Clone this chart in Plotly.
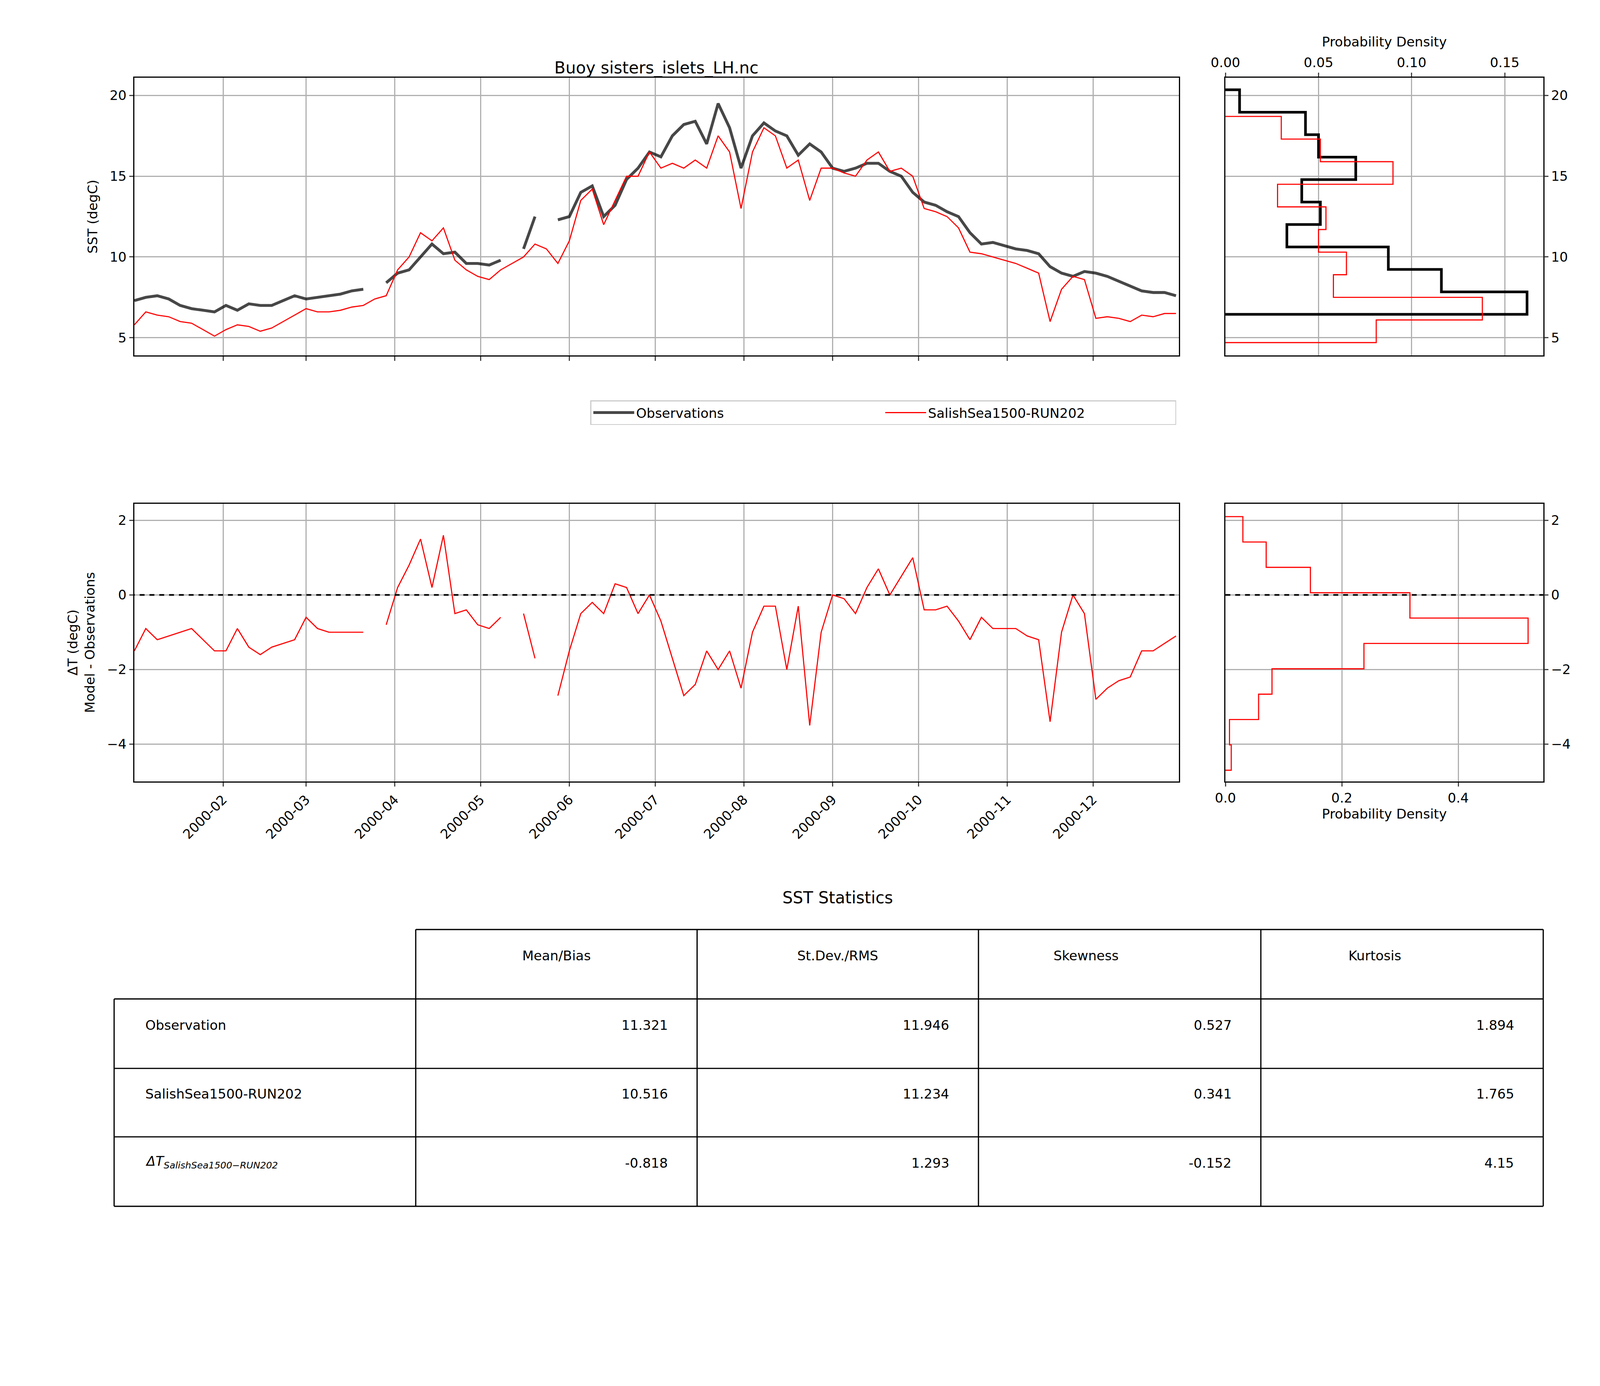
import plotly.graph_objects as go
import pandas as pd

# sampled every 4 days from 2000-01-01
obs_sst = [7.3, 7.5, 7.6, 7.4, 7.0, 6.8, 6.7, 6.6, 7.0, 6.7, 7.1, 7.0, 7.0, 7.3, 7.6, 7.4,
           7.5, 7.6, 7.7, 7.9, 8.0, None, 8.4, 9.0, 9.2, 10.0, 10.8, 10.2, 10.3, 9.6, 9.6, 9.5,
           9.8, None, 10.5, 12.5, None, 12.3, 12.5, 14.0, 14.4, 12.5, 13.2, 14.8, 15.5, 16.5,
           16.2, 17.5, 18.2, 18.4, 17.0, 19.5, 18.0, 15.5, 17.5, 18.3, 17.8, 17.5, 16.3, 17.0,
           16.5, 15.5, 15.3, 15.5, 15.8, 15.8, 15.3, 15.0, 14.0, 13.4, 13.2, 12.8, 12.5, 11.5,
           10.8, 10.9, 10.7, 10.5, 10.4, 10.2, 9.4, 9.0, 8.8, 9.1, 9.0, 8.8, 8.5, 8.2, 7.9,
           7.8, 7.8, 7.6]
mod_sst = [5.8, 6.6, 6.4, 6.3, 6.0, 5.9, 5.5, 5.1, 5.5, 5.8, 5.7, 5.4, 5.6, 6.0, 6.4, 6.8,
           6.6, 6.6, 6.7, 6.9, 7.0, 7.4, 7.6, 9.2, 10.0, 11.5, 11.0, 11.8, 9.8, 9.2, 8.8, 8.6,
           9.2, 9.6, 10.0, 10.8, 10.5, 9.6, 11.0, 13.5, 14.2, 12.0, 13.5, 15.0, 15.0, 16.5,
           15.5, 15.8, 15.5, 16.0, 15.5, 17.5, 16.5, 13.0, 16.5, 18.0, 17.5, 15.5, 16.0, 13.5,
           15.5, 15.5, 15.2, 15.0, 16.0, 16.5, 15.3, 15.5, 15.0, 13.0, 12.8, 12.5, 11.8, 10.3,
           10.2, 10.0, 9.8, 9.6, 9.3, 9.0, 6.0, 8.0, 8.8, 8.6, 6.2, 6.3, 6.2, 6.0, 6.4, 6.3,
           6.5, 6.5]

obs_edges = [6.45, 7.84, 9.23, 10.62, 12.01, 13.40, 14.79, 16.18, 17.57, 18.96, 20.35]
obs_dens = [0.162, 0.116, 0.0875, 0.033, 0.051, 0.041, 0.07, 0.05, 0.043, 0.0076]
mod_edges = [4.7, 6.1, 7.5, 8.9, 10.3, 11.7, 13.1, 14.5, 15.9, 17.3, 18.7]
mod_dens = [0.081, 0.138, 0.058, 0.065, 0.05, 0.054, 0.028, 0.09, 0.051, 0.03]
diff_edges = [-4.7, -4.02, -3.34, -2.66, -1.98, -1.30, -0.62, 0.06, 0.74, 1.42, 2.10]
diff_dens = [0.01, 0.007, 0.057, 0.08, 0.238, 0.52, 0.317, 0.146, 0.07, 0.03]

stat_cols = ["Mean/Bias", "St.Dev./RMS", "Skewness", "Kurtosis"]
stat_rows = ["Observation", "SalishSea1500-RUN202",
             "<i>ΔT<sub>SalishSea1500−RUN202</sub></i>"]
stat_vals = [["11.321", "11.946", "0.527", "1.894"],
             ["10.516", "11.234", "0.341", "1.765"],
             ["-0.818", "1.293", "-0.152", "4.15"]]

dates = pd.date_range("2000-01-01", periods=len(obs_sst), freq="4D")
diff = [None if (o is None or m is None) else m - o for o, m in zip(obs_sst, mod_sst)]

W, H = 4080, 3107
S = W / 1560.0  # display px -> real px
def px(v): return v / 1560.0
def py(v): return 1 - v / 1188.0

def step(edges, dens):
    xs, ys = [0], [edges[0]]
    for i, d in enumerate(dens):
        xs += [d, d]
        ys += [edges[i], edges[i + 1]]
    xs.append(0); ys.append(edges[-1])
    return xs, ys

FS = 13 * S
fig = go.Figure()
fig.add_trace(go.Scatter(x=dates, y=obs_sst, mode="lines", name="Observations",
                         line=dict(color="rgba(0,0,0,0.72)", width=2.8 * S),
                         xaxis="x", yaxis="y"))
fig.add_trace(go.Scatter(x=dates, y=mod_sst, mode="lines", name="SalishSea1500-RUN202",
                         line=dict(color="red", width=1.1 * S), xaxis="x", yaxis="y"))
hx, hy = step(obs_edges, obs_dens)
fig.add_trace(go.Scatter(x=hx, y=hy, mode="lines", line=dict(color="black", width=2.6 * S),
                         showlegend=False, xaxis="x2", yaxis="y2"))
hx, hy = step(mod_edges, mod_dens)
fig.add_trace(go.Scatter(x=hx, y=hy, mode="lines", line=dict(color="red", width=1.1 * S),
                         showlegend=False, xaxis="x2", yaxis="y2"))
fig.add_trace(go.Scatter(x=dates, y=diff, mode="lines", line=dict(color="red", width=1.1 * S),
                         showlegend=False, xaxis="x3", yaxis="y3"))
hx, hy = step(diff_edges, diff_dens)
fig.add_trace(go.Scatter(x=hx, y=hy, mode="lines", line=dict(color="red", width=1.1 * S),
                         showlegend=False, xaxis="x4", yaxis="y4"))
# zero lines
fig.add_trace(go.Scatter(x=[dates[0] - pd.Timedelta(days=5), dates[-1] + pd.Timedelta(days=5)],
                         y=[0, 0], mode="lines", line=dict(color="black", width=1.6 * S, dash="dash"),
                         showlegend=False, xaxis="x3", yaxis="y3"))
fig.add_trace(go.Scatter(x=[0, 1], y=[0, 0], mode="lines",
                         line=dict(color="black", width=1.6 * S, dash="dash"),
                         showlegend=False, xaxis="x4", yaxis="y4"))

ax = dict(showline=True, mirror=True, linecolor="black", linewidth=1 * S, ticks="outside",
          ticklen=4 * S, tickwidth=1 * S, showgrid=True, gridcolor="#b0b0b0", gridwidth=1 * S,
          zeroline=False, tickfont=dict(size=FS, color="black"))
xr = ["2000-01-01", "2000-12-31"]
tv = ["2000-%02d-01" % m for m in range(2, 13)]
tt = ["2000-%02d" % m for m in range(2, 13)]
xd1 = [px(115), px(1147)]
xd2 = [px(1193), px(1507)]
yd1 = [py(345), py(73)]
yd2 = [py(762), py(490)]
fig.update_layout(
    width=W, height=H, margin=dict(l=0, r=0, t=0, b=0),
    paper_bgcolor="white", plot_bgcolor="white",
    font=dict(family="DejaVu Sans", size=FS, color="black"),
    xaxis=dict(ax, domain=xd1, range=xr, tickvals=tv, showticklabels=False, anchor="y"),
    yaxis=dict(ax, domain=yd1, range=[3.9, 21.1], tickvals=[5, 10, 15, 20], anchor="x",
               title=dict(text="SST (degC)", font=dict(size=FS), standoff=8 * S)),
    xaxis2=dict(ax, domain=xd2, range=[0, 0.1707], side="top", anchor="y2",
                tickvals=[0, 0.05, 0.1, 0.15], ticktext=["0.00", "0.05", "0.10", "0.15"],
                title=dict(text="Probability Density", font=dict(size=FS), standoff=4 * S)),
    yaxis2=dict(ax, domain=yd1, range=[3.9, 21.1], tickvals=[5, 10, 15, 20], side="right",
                anchor="x2"),
    xaxis3=dict(ax, domain=xd1, range=xr, tickvals=tv, ticktext=tt, tickangle=-45, anchor="y3"),
    yaxis3=dict(ax, domain=yd2, range=[-5, 2.45], tickvals=[-4, -2, 0, 2], anchor="x3",
                title=dict(text="ΔT (degC)<br>Model - Observations", font=dict(size=FS),
                           standoff=8 * S)),
    xaxis4=dict(ax, domain=xd2, range=[0, 0.546], tickvals=[0, 0.2, 0.4], anchor="y4",
                ticktext=["0.0", "0.2", "0.4"],
                title=dict(text="Probability Density", font=dict(size=FS), standoff=4 * S)),
    yaxis4=dict(ax, domain=yd2, range=[-5, 2.45], tickvals=[-4, -2, 0, 2], side="right",
                anchor="x4"),
    legend=dict(orientation="h", x=px(855), y=py(401), xanchor="center", yanchor="middle",
                bordercolor="#cccccc", borderwidth=1 * S, font=dict(size=FS),
                itemwidth=40 * S, entrywidth=240 * S, entrywidthmode="pixels"),
)
fig.add_annotation(text="Buoy sisters_islets_LH.nc", x=px(631), y=py(53), xref="paper",
                   yref="paper", showarrow=False, font=dict(size=16 * S))
fig.add_annotation(text="SST Statistics", x=px(810), y=py(886), xref="paper",
                   yref="paper", showarrow=False, font=dict(size=16 * S))

# table grid
cx = [95, 393, 671, 949, 1228, 1507]
ry = [907, 975, 1043, 1110, 1178]
lw = dict(color="black", width=1.2 * S)
for i, x in enumerate(cx):
    fig.add_shape(type="line", xref="paper", yref="paper", x0=px(x), x1=px(x),
                  y0=py(ry[1] if i == 0 else ry[0]), y1=py(ry[-1]), line=lw)
for j, y in enumerate(ry):
    fig.add_shape(type="line", xref="paper", yref="paper", x0=px(cx[1] if j == 0 else cx[0]),
                  x1=px(cx[-1]), y0=py(y), y1=py(y), line=lw)
for k, c in enumerate(stat_cols):
    fig.add_annotation(text=c, x=px((cx[k + 1] + cx[k + 2]) / 2), y=py((ry[0] + ry[1]) / 2),
                       xref="paper", yref="paper", showarrow=False, font=dict(size=FS))
for r, name in enumerate(stat_rows):
    yc = py((ry[r + 1] + ry[r + 2]) / 2)
    fig.add_annotation(text=name, x=px(cx[0] + 30), y=yc, xref="paper", yref="paper",
                       xanchor="left", showarrow=False, font=dict(size=FS))
    for k, v in enumerate(stat_vals[r]):
        fig.add_annotation(text=v, x=px(cx[k + 2] - 28), y=yc, xref="paper", yref="paper",
                           xanchor="right", showarrow=False, font=dict(size=FS))

fig.write_html("out.html")
